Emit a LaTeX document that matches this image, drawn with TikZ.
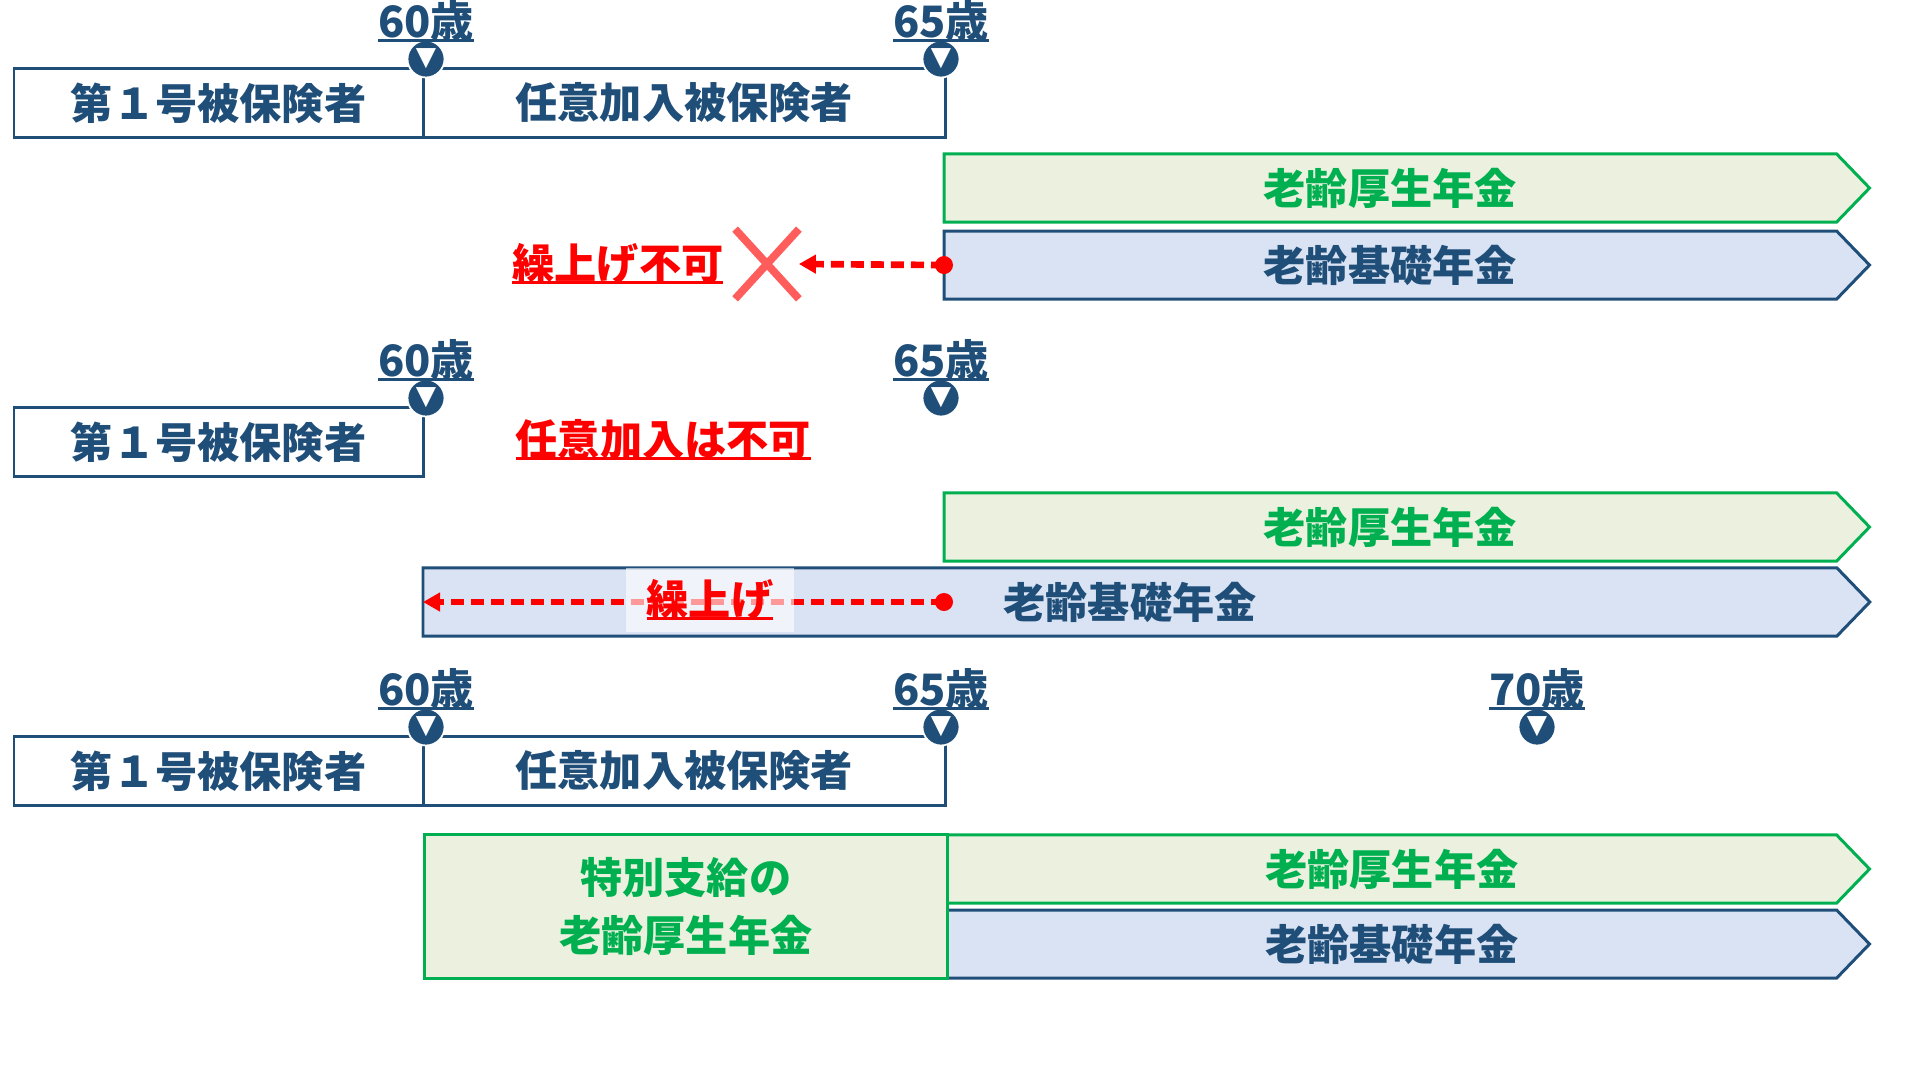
\documentclass[tikz,border=0pt]{standalone}
\usepackage{fontspec}
\setmainfont{Noto Sans CJK JP}
\newfontfamily\symfont{DejaVu Sans}
\usepackage{tikz}
\usetikzlibrary{positioning,shapes.symbols,shapes.misc,arrows.meta}

\definecolor{navy}{RGB}{31,78,121}
\definecolor{kgreen}{RGB}{0,176,80}
\definecolor{kgreenfill}{RGB}{235,241,222}
\definecolor{kbluefill}{RGB}{218,227,243}
\definecolor{batsured}{RGB}{255,92,92}

\newsavebox{\ulbox}
\newcommand{\ulined}[1]{\sbox{\ulbox}{#1}\rlap{\rule[-0.11em]{\wd\ulbox}{0.85pt}}\usebox{\ulbox}}

\tikzstyle{jptext} = [font=\fontsize{12pt}{16.5pt}\selectfont\bfseries]
\tikzstyle{termbox} = [jptext, draw=navy, line width=0.85pt, fill=white, text=navy, rectangle, minimum height=0.68cm, outer sep=0pt, inner sep=0pt]
\tikzstyle{agemark} = [circle, fill=navy, draw=white, line width=0.5pt, minimum size=0.37cm, inner sep=0pt, text=white, font=\symfont\fontsize{7.5pt}{8pt}\selectfont]
\tikzstyle{agelabel} = [font=\fontsize{12.3pt}{15pt}\selectfont\bfseries, text=navy, inner sep=0pt]
\tikzstyle{koseibar} = [jptext, signal, signal to=east, signal pointer angle=92, draw=kgreen, fill=kgreenfill, text=kgreen, line width=0.85pt, minimum height=0.68cm, outer sep=0pt]
\tikzstyle{kisobar} = [koseibar, draw=navy, fill=kbluefill, text=navy]
\tikzstyle{redlabel} = [jptext, text=red, inner sep=0pt]
\tikzstyle{reddot} = [circle, fill=red, minimum size=0.18cm, inner sep=0pt]
\tikzstyle{redarrow} = [red, line width=1.9pt, dash pattern=on 0.13cm off 0.07cm, -{Triangle[length=0.17cm,width=0.18cm]}]

\begin{document}
\begin{tikzpicture}[x=0.01cm, y=-0.01cm]
\useasboundingbox (0,0) rectangle (1920,1080);

% 1段目: 任意加入あり、繰上げ不可
\node [termbox, anchor=north west, minimum width=4.09cm] (dai1a) at (14,69) {第１号被保険者};
\node [termbox, right=0pt of dai1a, minimum width=5.22cm] (nini1a) {任意加入被保険者};
\node [agemark] (m60a) at (426,59) {▼};
\node [agelabel, above=-0.03cm of m60a] (l60a) {\ulined{60歳}};
\node [agemark] (m65a) at (941,59) {▼};
\node [agelabel, above=-0.03cm of m65a] (l65a) {\ulined{65歳}};
\node [koseibar, anchor=north west, minimum width=9.25cm] (kosei1) at (944,154) {老齢厚生年金};
\node [kisobar, below=0.09cm of kosei1, minimum width=9.25cm] (kiso1) {老齢基礎年金};
\node [reddot] (dot1) at (kiso1.west) {};
\node [draw=batsured, cross out, line width=2.2pt, minimum width=0.56cm, minimum height=0.62cm, inner sep=0pt] (batsu) at (767,264) {};
\draw [redarrow] (dot1.center) -- (batsu.east);
\node [redlabel, left=0.11cm of batsu] (kuriage1) {\ulined{繰上げ不可}};

% 2段目: 任意加入なし、繰上げ
\node [termbox, anchor=north west, minimum width=4.09cm] (dai1b) at (14,408) {第１号被保険者};
\node [agemark] (m60b) at (426,398) {▼};
\node [agelabel, above=-0.03cm of m60b] (l60b) {\ulined{60歳}};
\node [agemark] (m65b) at (941,398) {▼};
\node [agelabel, above=-0.03cm of m65b] (l65b) {\ulined{65歳}};
\node [redlabel, anchor=west] (fuka) at (515,440) {\ulined{任意加入は不可}};
\node [koseibar, anchor=north west, minimum width=9.25cm] (kosei2) at (944,493) {老齢厚生年金};
\node [kisobar, anchor=north west, minimum width=14.46cm] (kiso2) at (423,568) {老齢基礎年金};
\node [reddot] (dot2) at (kosei2.south west |- kiso2.west) {};
\draw [redarrow] (dot2.center) -- (kiso2.west);
\node [fill=white, fill opacity=0.6, minimum width=1.68cm, minimum height=0.63cm, inner sep=0pt] (kuriage2bg) at (710,600) {};
\node [redlabel] (kuriage2) at (kuriage2bg) {\ulined{繰上げ}};

% 3段目: 特別支給の老齢厚生年金
\node [termbox, anchor=north west, minimum width=4.09cm] (dai1c) at (14,737) {第１号被保険者};
\node [termbox, right=0pt of dai1c, minimum width=5.22cm] (nini1c) {任意加入被保険者};
\node [agemark] (m60c) at (426,727) {▼};
\node [agelabel, above=-0.03cm of m60c] (l60c) {\ulined{60歳}};
\node [agemark] (m65c) at (941,727) {▼};
\node [agelabel, above=-0.03cm of m65c] (l65c) {\ulined{65歳}};
\node [agemark] (m70c) at (1537,727) {▼};
\node [agelabel, above=-0.03cm of m70c] (l70c) {\ulined{70歳}};
\node [koseibar, anchor=north west, minimum width=9.22cm] (kosei3) at (947,835) {老齢厚生年金};
\node [kisobar, below=0.07cm of kosei3, minimum width=9.22cm] (kiso3) {老齢基礎年金};
\node [jptext, draw=kgreen, fill=kgreenfill, text=kgreen, line width=0.85pt, minimum width=5.22cm, minimum height=1.43cm, align=center, anchor=north east, outer sep=0pt] (tokubetsu) at (kosei3.north west) {特別支給の\\老齢厚生年金};
\end{tikzpicture}
\end{document}
